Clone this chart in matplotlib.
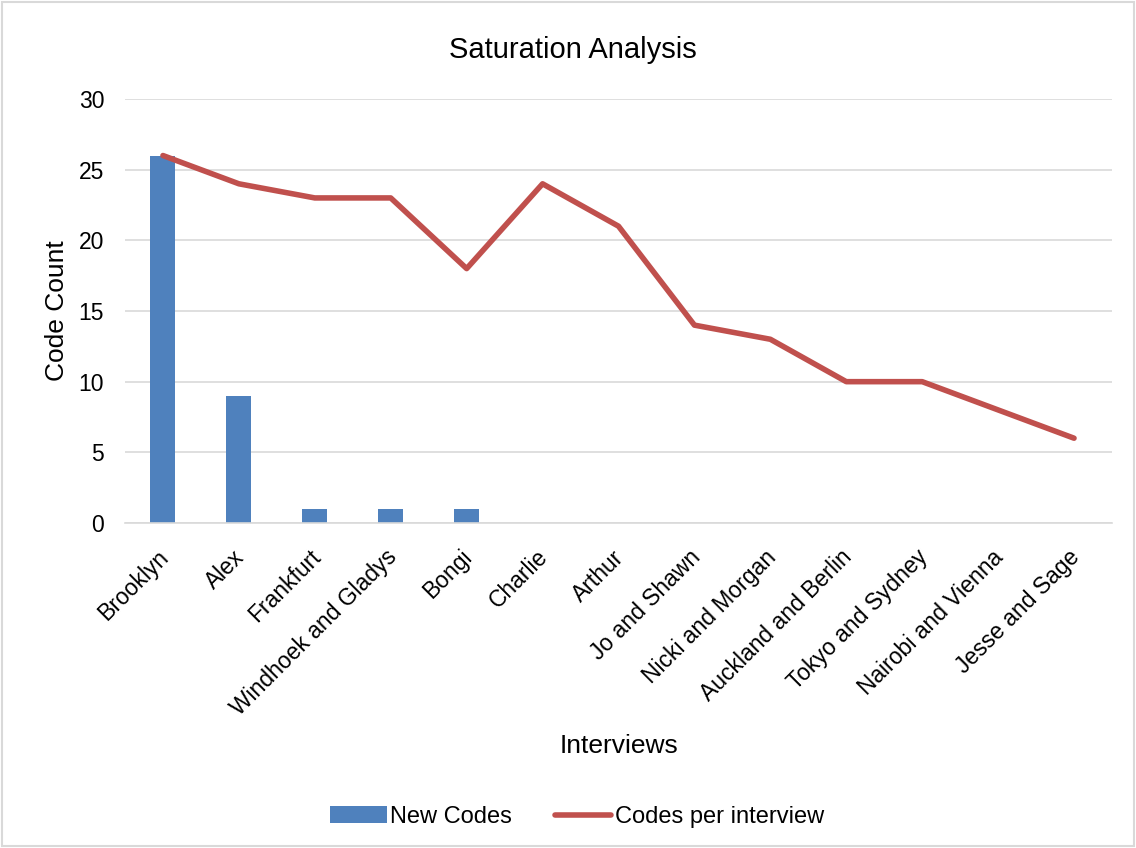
import matplotlib.pyplot as plt
import matplotlib.transforms as mtransforms
import numpy as np

plt.rcParams["font.family"] = ["Liberation Sans", "DejaVu Sans"]

interviews = ["Brooklyn", "Alex", "Frankfurt", "Windhoek and Gladys", "Bongi",
              "Charlie", "Arthur", "Jo and Shawn", "Nicki and Morgan",
              "Auckland and Berlin", "Tokyo and Sydney", "Nairobi and Vienna",
              "Jesse and Sage"]
new_codes = [26, 9, 1, 1, 1, 0, 0, 0, 0, 0, 0, 0, 0]
codes_per_interview = [26, 24, 23, 23, 18, 24, 21, 14, 13, 10, 10, 8, 6]

fig = plt.figure(figsize=(11.36, 8.48), dpi=100)
ax = fig.add_axes([125 / 1136, 1 - 523 / 848, 987 / 1136, 424 / 848])

x = np.arange(len(interviews))
bars = ax.bar(x, new_codes, width=0.33, color="#4F81BD", label="New Codes", zorder=2)
line, = ax.plot(x, codes_per_interview, color="#C0504D", lw=4, solid_capstyle="round",
                label="Codes per interview", zorder=3)

ax.set_xlim(-0.5, len(interviews) - 0.5)
ax.set_ylim(0, 30)
ax.set_yticks(range(0, 31, 5))
ax.grid(axis="y", color="#D9D9D9", lw=1.2, zorder=0)
for s in ["top", "right", "left"]:
    ax.spines[s].set_visible(False)
ax.spines["bottom"].set_color("#D9D9D9")
ax.spines["bottom"].set_linewidth(1.2)
ax.tick_params(length=0, labelsize=16.5)
ax.tick_params(axis="y", pad=15)
ax.tick_params(axis="x", pad=12)
ax.set_xticks(x)
ax.set_xticklabels(interviews, rotation=45, ha="right", rotation_mode="anchor")
# nudge rotated labels left/down a little, like the original
shift = mtransforms.ScaledTranslation(-6 / 100, -6 / 100, fig.dpi_scale_trans)
for lab in ax.get_xticklabels():
    lab.set_transform(lab.get_transform() + shift)

fig.text(573 / 1136, 1 - 50 / 848, "Saturation Analysis", fontsize=21,
         ha="center", va="center")
fig.text(57 / 1136, 1 - 311 / 848, "Code Count", fontsize=19, rotation=90,
         ha="center", va="center")
fig.text(619 / 1136, 1 - 746 / 848, "Interviews", fontsize=19,
         ha="center", va="center")

fig.legend([bars, line], ["New Codes", "Codes per interview"], loc="center",
           bbox_to_anchor=(577 / 1136, 1 - 817 / 848), ncol=2, frameon=False,
           fontsize=17, handlelength=2.4, columnspacing=1.8, handletextpad=0.15)

fig.patches.append(plt.Rectangle((0.002, 0.002), 0.996, 0.996, transform=fig.transFigure,
                                 fill=False, edgecolor="#D9D9D9", lw=1.5))

fig.savefig("out.png", dpi=100)
